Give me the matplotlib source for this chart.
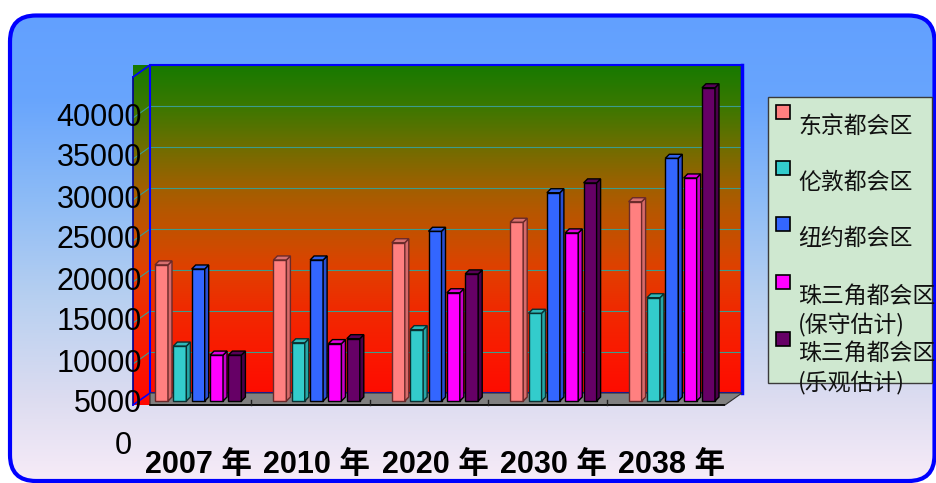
import numpy as np
import matplotlib.pyplot as plt
from matplotlib.colors import LinearSegmentedColormap
from matplotlib.patches import Polygon, Rectangle, FancyBboxPatch
from matplotlib.transforms import ScaledTranslation

# data
years = ["2007 年", "2010 年", "2020 年", "2030 年", "2038 年"]
series_names = ["东京都会区", "伦敦都会区", "纽约都会区",
                "珠三角都会区\n(保守估计)", "珠三角都会区\n(乐观估计)"]
tokyo = [21600, 22200, 24300, 26800, 29300]
london = [11700, 12100, 13700, 15700, 17600]
new_york = [21100, 22200, 25700, 30400, 34600]
prd_low = [10600, 12000, 18200, 25500, 32200]
prd_high = [10600, 12600, 20500, 31600, 43200]
y_ticks = list(range(0, 40001, 5000))

front_colors = ["#ff8080", "#33cccc", "#3366ff", "#ff00ff", "#660066"]
side_colors = ["#d86a6a", "#26a6a6", "#2a4ed0", "#c800c8", "#4a004a"]
top_colors = ["#d87070", "#2fb8b8", "#3060e8", "#e000e0", "#580058"]
edge_colors = ["#6a2a2a", "#0a3030", "#000000", "#000000", "#000000"]

W, H = 936, 483
fig = plt.figure(figsize=(W / 100, H / 100), dpi=100)
fig.patch.set_facecolor("white")

# ---- background panel with rounded blue frame
bg = fig.add_axes([0, 0, 1, 1])
bg.set_xlim(0, W)
bg.set_ylim(H, 0)
bg.axis("off")
bg_cmap = LinearSegmentedColormap.from_list("bg", [
    (0.0, "#62a0ff"), (0.18, "#68a5fd"), (0.4, "#8ebcf6"),
    (0.61, "#b8d0f0"), (0.82, "#dcdcf0"), (1.0, "#f8ecf8")])
grad = np.linspace(0, 1, 256).reshape(-1, 1)
im = bg.imshow(grad, cmap=bg_cmap, extent=(8, W, H, 14), aspect="auto")
frame = FancyBboxPatch((10, 15.5), 924.5, 465.5,
                       boxstyle="round,pad=0,rounding_size=26",
                       transform=bg.transData, fc="none", ec="#0000ff", lw=3)
im.set_clip_path(frame)
bg.add_patch(frame)
bg.set_xlim(0, W)
bg.set_ylim(H, 0)

# ---- plot area (front plane)
ax = fig.add_axes([133 / W, 1 - 446 / H, 592 / W, 369 / H])
ax.set_autoscale_on(False)
x0, x1 = -0.5, 4.5
floor, top = 5000, 45000
ax.set_xlim(x0, x1)
ax.set_ylim(0, top)
ax.patch.set_visible(False)
for s in ax.spines.values():
    s.set_visible(False)

ux = (x1 - x0) / 592      # data units per pixel
uy = top / 369
DX, DY = 17 * ux, 12 * uy  # wall depth
BX, BY = 6 * ux, 4 * uy    # bar plane
SX, SY = 4 * ux, 4 * uy    # bar depth

wall_cmap = LinearSegmentedColormap.from_list("wall", [
    (0.0, "#167a00"), (0.12, "#3a7800"), (0.24, "#6e6e00"),
    (0.36, "#a06000"), (0.44, "#b85600"), (0.53, "#cc4c00"),
    (0.6, "#e04000"), (0.72, "#f02a00"), (0.84, "#fa1a00"),
    (1.0, "#ff0800")])
wall = ax.imshow(grad, cmap=wall_cmap, extent=(x0, x1 + DX, floor, top + DY),
                 aspect="auto", zorder=0.5)
wall_clip = Polygon([(x0, floor), (x0, top + DY), (x1 + DX, top + DY),
                     (x1 + DX, floor + DY), (x0 + DX, floor + DY), (x0 + DX, floor)],
                    closed=True, transform=ax.transData, fc="none", ec="none")
wall.set_clip_box(fig.bbox)
wall.set_clip_path(wall_clip)

# grid lines on back and side walls
for v in y_ticks[2:]:
    ax.plot([x0 + DX, x1 + DX], [v + DY, v + DY], color="#3c9c8c", lw=0.8,
            zorder=0.8, clip_on=False)
    ax.plot([x0, x0 + DX], [v, v + DY], color="#3c9c8c", lw=0.8, zorder=0.8, clip_on=False)

# wall borders
ax.add_patch(Rectangle((x0 + DX, floor + DY), x1 - x0, top - floor, fill=False,
                       ec="#0000ff", lw=1.5, zorder=0.9, clip_on=False))
ax.plot([x1 + DX, x1 + DX], [floor + DY, top + DY], color="#0000ff", lw=2.5,
        zorder=0.9, clip_on=False)
ax.plot([x0, x0], [floor, top], color="#00008c", lw=1.2, zorder=0.9, clip_on=False)
ax.plot([x0, x0 + DX], [top, top + DY], color="#0000ff", lw=1.2, zorder=0.9, clip_on=False)
ax.plot([x0, x0 + DX], [floor, floor + DY], color="#0000ff", lw=1.2, zorder=0.9, clip_on=False)

# floor
ax.add_patch(Polygon([(x0 + DX, floor), (x1, floor), (x1 + DX, floor + DY),
                      (x0 + DX, floor + DY)], closed=True, fc="#808080",
                     ec="#303030", lw=0.8, zorder=1, clip_on=False))
ax.plot([x0 + DX, x1], [floor, floor], color="#000000", lw=1.2, zorder=1.1)
for b in np.arange(0.5, 4, 1.0):
    ax.plot([b, b], [floor, floor + 5 * uy], color="#202020", lw=1, zorder=1.1)

# bars
series = [tokyo, london, new_york, prd_low, prd_high]
slot = 18.35 * ux
fw = 13 * ux
cats = np.arange(len(years))
for i, vals in enumerate(series):
    xs = cats + (i - 2) * slot + BX
    vals = np.array(vals)
    ax.bar(xs, vals - floor, bottom=floor + BY, width=fw, color=front_colors[i],
           edgecolor=edge_colors[i], lw=1.0, zorder=3)
    for xc, v in zip(xs, vals):
        xl, xr = xc - fw / 2, xc + fw / 2
        b, t = floor + BY, v + BY
        ax.add_patch(Polygon([(xr, b), (xr + SX, b + SY), (xr + SX, t + SY), (xr, t)],
                             closed=True, fc=side_colors[i], ec=edge_colors[i],
                             lw=1.0, zorder=3, clip_on=False))
        ax.add_patch(Polygon([(xl, t), (xl + SX, t + SY), (xr + SX, t + SY), (xr, t)],
                             closed=True, fc=top_colors[i], ec=edge_colors[i],
                             lw=1.0, zorder=3, clip_on=False))

# axis labels
ax.set_yticks(y_ticks)
ax.set_yticklabels([str(v) for v in y_ticks], fontsize=22, family="Liberation Sans")
ax.tick_params(axis="y", length=0, pad=-6.5)
for k, lab in enumerate(ax.get_yticklabels()):
    shift_x = -0.1 if y_ticks[k] == 0 else 0
    lab.set_transform(lab.get_transform()
                      + ScaledTranslation(shift_x, 0.04, fig.dpi_scale_trans))
ax.set_xticks(cats + BX)
ax.set_xticklabels(years, fontsize=22, fontweight="bold",
                   family=["Liberation Sans", "Noto Sans CJK SC"])
ax.tick_params(axis="x", length=0, pad=3)

# legend
bg.add_patch(Rectangle((768, 97), 164, 286, fc="#cfe8d0", ec="#3a3a3a", lw=1, zorder=2))
marker_y = [112, 168, 224, 282, 339]
for i, name in enumerate(series_names):
    bg.add_patch(Rectangle((776, marker_y[i] - 7), 14, 14, fc=front_colors[i],
                           ec="black", lw=1.2, zorder=3))
    for j, line in enumerate(name.split("\n")):
        bg.text(798, marker_y[i] + 14 + 29 * j, line, fontsize=16.5, va="center",
                ha="left", family=["Noto Sans CJK SC", "DejaVu Sans"],
                color="#111111", zorder=3)

fig.savefig("out.png", dpi=100)
